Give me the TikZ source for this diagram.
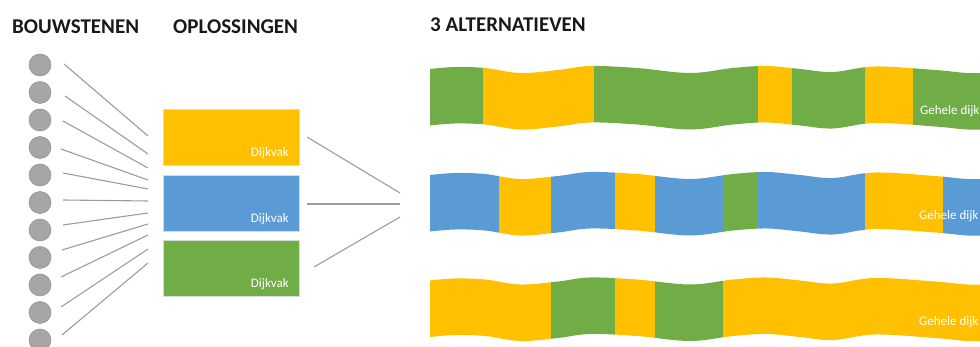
\documentclass[tikz,border=0pt]{standalone}
\usepackage{fontspec}
\setmainfont{Carlito}
\definecolor{oyellow}{HTML}{FFC000}
\definecolor{oblue}{HTML}{5B9BD5}
\definecolor{ogreen}{HTML}{70AD47}
\definecolor{cfill}{HTML}{A6A6A6}
\definecolor{cedge}{HTML}{8C8C8C}
\definecolor{lgray}{HTML}{9C9C9C}
\newcommand\bandclip{\clip plot[smooth,tension=0.6] coordinates {(430,-0.5) (455,-2.5) (485,-1.5) (520,3.5) (558,0.5) (590,-3.5) (637,-1.5) (690,3.5) (733,-1.5) (767,-3.5) (800,-0.5) (833,2.5) (875,-3) (935,0.5) (967,3.5) (990,3.5)} -- plot[smooth,tension=0.6] coordinates {(990,60) (967,60) (935,57) (875,53.5) (833,59) (800,56) (767,53) (733,55) (690,60) (637,55) (590,53) (558,57) (520,60) (485,55) (455,54) (430,56)} -- cycle;}
\tikzset{
  head/.style={font=\fontsize{21}{24}\selectfont\bfseries, anchor=base west, inner sep=0pt, text=black!90},
  circ/.style={circle, fill=cfill, draw=cedge, line width=0.5pt, minimum size=22pt, inner sep=0pt},
  conn/.style={draw=lgray, line width=1.1pt},
  box/.style={minimum width=136pt, minimum height=56.3pt, inner sep=0pt, draw=white!85!black, line width=0.3pt},
  lbl/.style={font=\fontsize{13}{15}\selectfont, text=white, inner sep=0pt},
}
\begin{document}
\begin{tikzpicture}[x=1pt,y=-1pt]
\useasboundingbox (0,0) rectangle (980,347);
% headings
\node[head] (h1) at (12,33.3) {BOUWSTENEN};
\node[head] (h2) at (173,33.3) {OPLOSSINGEN};
\node[head] (h3) at (430,31.8) {3 ALTERNATIEVEN};
% circles
\foreach \i/\y in {1/65,2/92.5,3/120,4/147.5,5/175,6/202.5,7/230,8/257.5,9/285,10/312.5,11/340}
  \node[circ] (c\i) at (40,\y) {};
% connector lines from building blocks
\foreach \i/\sx/\sy/\ey in {1/64/64/136,2/65/96/154,3/63/121/168,4/61/149/180,5/63/173/189,6/63/200/201,7/63/225/213,8/62/250/224,9/61/277/235,10/61/307/249,11/62/335/263}{
  \coordinate (s\i) at (\sx,\sy);
  \coordinate (e\i) at (148,\ey);
  \draw[conn] (s\i) -- (e\i);
}
% solution boxes
\node[box, fill=oyellow] (b1) at (230.7,137.2) {};
\node[box, fill=oblue] (b2) at (230.7,202.9) {};
\node[box, fill=ogreen] (b3) at (230.7,268.1) {};
\node[lbl, anchor=base east] (d1) at (289,157) {Dijkvak};
\node[lbl, anchor=base east] (d2) at (289,222.5) {Dijkvak};
\node[lbl, anchor=base east] (d3) at (289,287.5) {Dijkvak};
% lines to alternatives
\coordinate (r1) at (307,137); \coordinate (q1) at (400,193);
\coordinate (r2) at (307,204); \coordinate (q2) at (400,204);
\coordinate (r3) at (314,267); \coordinate (q3) at (400,217);
\draw[conn] (r1) -- (q1);
\draw[conn] (r2) -- (q2);
\draw[conn] (r3) -- (q3);
% band 1
\begin{scope}[shift={(0,69.5)}]
  \begin{scope}
    \bandclip
    \fill[ogreen] (425,-10) rectangle (483,70);
    \fill[oyellow] (483,-10) rectangle (594,70);
    \fill[ogreen] (594,-10) rectangle (758,70);
    \fill[oyellow] (758,-10) rectangle (792,70);
    \fill[ogreen] (792,-10) rectangle (865,70);
    \fill[oyellow] (865,-10) rectangle (913,70);
    \fill[ogreen] (913,-10) rectangle (995,70);
  \end{scope}
\end{scope}
% band 2
\begin{scope}[shift={(0,175.5)}]
  \begin{scope}
    \bandclip
    \fill[oblue] (425,-10) rectangle (499,70);
    \fill[oyellow] (499,-10) rectangle (551,70);
    \fill[oblue] (551,-10) rectangle (615,70);
    \fill[oyellow] (615,-10) rectangle (655,70);
    \fill[oblue] (655,-10) rectangle (723,70);
    \fill[ogreen] (723,-10) rectangle (758,70);
    \fill[oblue] (758,-10) rectangle (865,70);
    \fill[oyellow] (865,-10) rectangle (943,70);
    \fill[oblue] (943,-10) rectangle (995,70);
  \end{scope}
\end{scope}
% band 3
\begin{scope}[shift={(0,281)}]
  \begin{scope}
    \bandclip
    \fill[oyellow] (425,-10) rectangle (551,70);
    \fill[ogreen] (551,-10) rectangle (615,70);
    \fill[oyellow] (615,-10) rectangle (655,70);
    \fill[ogreen] (655,-10) rectangle (723,70);
    \fill[oyellow] (723,-10) rectangle (995,70);
  \end{scope}
\end{scope}
\node[lbl, anchor=base west] (g1) at (920,115) {Gehele dijk};
\node[lbl, anchor=base west] (g2) at (919,220) {Gehele dijk};
\node[lbl, anchor=base west] (g3) at (919,326) {Gehele dijk};
\end{tikzpicture}
\end{document}
